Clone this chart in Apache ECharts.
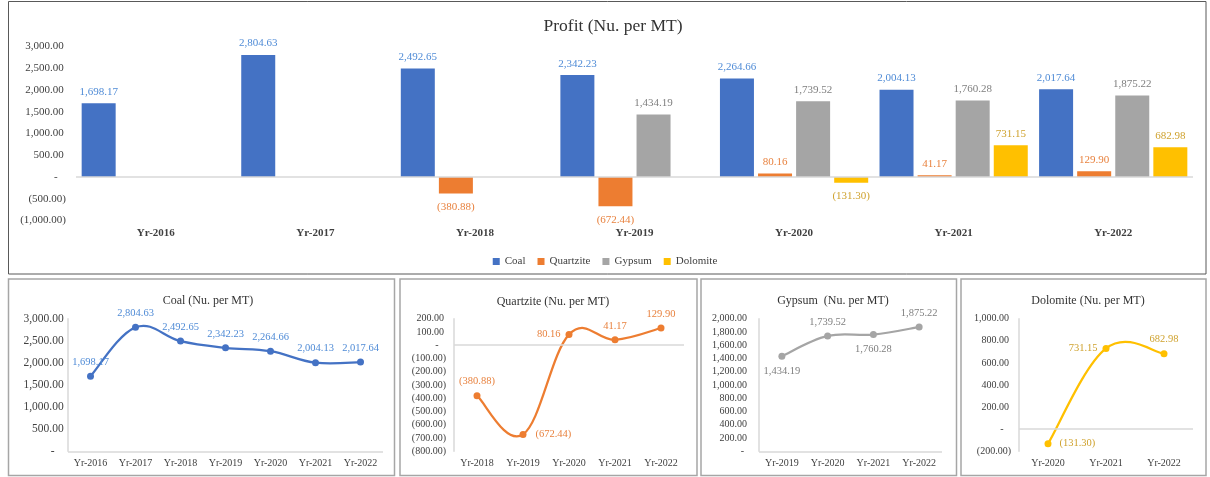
<!DOCTYPE html>
<html>
<head>
<meta charset="utf-8">
<script src="https://cdn.jsdelivr.net/npm/echarts@6/dist/echarts.min.js"></script>
<style>
html,body{margin:0;padding:0;background:#fff;}
#c{width:1210px;height:477px;}
</style>
</head>
<body>
<div id="c"></div>
<script>
// ---- data ----
const years = ['Yr-2016','Yr-2017','Yr-2018','Yr-2019','Yr-2020','Yr-2021','Yr-2022'];
const coal = [1698.17, 2804.63, 2492.65, 2342.23, 2264.66, 2004.13, 2017.64];
const quartzite = [null, null, -380.88, -672.44, 80.16, 41.17, 129.90];
const gypsum = [null, null, null, 1434.19, 1739.52, 1760.28, 1875.22];
const dolomite = [null, null, null, null, -131.30, 731.15, 682.98];
const seriesNames = ['Coal','Quartzite','Gypsum','Dolomite'];
// axis ranges [min, max, interval]
const mainAxis = [-1000, 3000, 500];
const coalAxis = [0, 3000, 500];
const quartzAxis = [-800, 200, 100];
const gypsumAxis = [0, 2000, 200];
const dolomiteAxis = [-200, 1000, 200];

// ---- helpers ----
const FONT = '"Liberation Serif", "Times New Roman", serif';
function fmtNum(v){
  const a = Math.abs(v);
  let s = a.toFixed(2);
  let [i, d] = s.split('.');
  i = i.replace(/\B(?=(\d{3})+(?!\d))/g, ',');
  return i + '.' + d;
}
function acct(v, pad){
  if (Math.abs(v) < 1e-9) return '-' + '\u00a0'.repeat(pad);
  return v < 0 ? '(' + fmtNum(v) + ')' : fmtNum(v) + '\u2009';
}
function lbl(v){ return v < 0 ? '(' + fmtNum(v) + ')' : fmtNum(v); }
function firstIdx(arr){ return arr.findIndex(v => v !== null); }
function sub(arr){ return arr.slice(firstIdx(arr)); }
function subYears(arr){ return years.slice(firstIdx(arr)); }

const colors = ['#4472C4','#ED7D31','#A5A5A5','#FFC000'];
const labelColors = ['#4F8BD6','#E8823F','#7F7F7F','#CFA22E'];
const allSeries = [coal, quartzite, gypsum, dolomite];

const zeroLine = {
  silent: true, symbol: 'none', animation: false,
  label: {show: false},
  lineStyle: {color: '#D9D9D9', width: 1.5, type: 'solid'},
  emphasis: {disabled: true},
  data: [{yAxis: 0}]
};

// ---- main bar chart ----
const mainSeries = allSeries.map((arr, k) => ({
  name: seriesNames[k], type: 'bar', xAxisIndex: 0, yAxisIndex: 0,
  barWidth: 34, barGap: '12%',
  itemStyle: {color: colors[k]},
  data: arr.map(v => v === null ? null : {
    value: v,
    label: {position: v < 0 ? 'bottom' : 'top', distance: v < 0 ? 8 : 6}
  }),
  label: {
    show: true, fontFamily: FONT, fontSize: 11, color: labelColors[k],
    formatter: p => lbl(p.value)
  },
  markLine: k === 0 ? zeroLine : undefined,
  animation: false
}));

// ---- small line panels ----
const panels = [
  {arr: coal, axis: coalAxis, pad: 4, k: 0, left: 68, width: 315, margin: 2, yFont: 11.5,
   pos: ['top','top','top','top','top','top','top'], dist: [5,5,5,5,5,5,5]},
  {arr: quartzite, axis: quartzAxis, pad: 3, k: 1, left: 454, width: 230, margin: 8, yFont: 10,
   pos: ['top','right','left','top','top'], dist: [5,9,5,5,5]},
  {arr: gypsum, axis: gypsumAxis, pad: 2, k: 2, left: 759, width: 183, margin: 10, yFont: 10,
   pos: ['bottom','top','bottom','top'], dist: [6,5,6,5]},
  {arr: dolomite, axis: dolomiteAxis, pad: 3, k: 3, left: 1019, width: 174, margin: 8, yFont: 10,
   pos: ['right','left','top'], dist: [8,5,5]}
];

const TENSION = 0.19; // Excel-like cardinal spline smoothing

const grids = [{left: 76, right: 17, top: 46.5, height: 174}];
const xAxes = [{
  type: 'category', gridIndex: 0, data: years,
  axisLine: {show: false, onZero: false}, axisTick: {show: false},
  axisLabel: {fontFamily: FONT, fontSize: 11, fontWeight: 'bold', color: '#404040', margin: 7}
}];
const yAxes = [{
  type: 'value', gridIndex: 0, min: mainAxis[0], max: mainAxis[1], interval: mainAxis[2],
  splitLine: {show: false}, axisLine: {show: false}, axisTick: {show: false},
  axisLabel: {fontFamily: FONT, fontSize: 11, color: '#404040', margin: 10,
    formatter: v => acct(v, 3)}
}];
const lineSeries = [];
panels.forEach((p, i) => {
  const gi = i + 1;
  const vals = sub(p.arr);
  grids.push({left: p.left, width: p.width, top: 318.7, height: 132.6});
  xAxes.push({
    type: 'category', gridIndex: gi, data: subYears(p.arr), boundaryGap: true,
    axisLine: {show: false, onZero: false}, axisTick: {show: false},
    axisLabel: {fontFamily: FONT, fontSize: 10, color: '#404040', margin: 7}
  });
  yAxes.push({
    type: 'value', gridIndex: gi, min: p.axis[0], max: p.axis[1], interval: p.axis[2],
    splitLine: {show: false},
    axisLine: {show: true, lineStyle: {color: '#D9D9D9', width: 1.5}},
    axisTick: {show: false},
    axisLabel: {fontFamily: FONT, fontSize: p.yFont, color: '#404040', margin: p.margin,
      formatter: v => acct(v, p.pad)}
  });
  // smooth curve drawn through the library's coordinate system
  lineSeries.push({
    type: 'custom', xAxisIndex: gi, yAxisIndex: gi, z: 1, silent: true,
    clip: false, animation: false,
    data: vals.map((v, j) => [j, v]),
    renderItem: (params, api) => {
      const j = params.dataIndex;
      if (j >= vals.length - 1) return {type: 'group', children: []};
      const P = idx => api.coord([Math.max(0, Math.min(vals.length - 1, idx)),
                                  vals[Math.max(0, Math.min(vals.length - 1, idx))]]);
      const p0 = P(j - 1), p1 = P(j), p2 = P(j + 1), p3 = P(j + 2);
      return {
        type: 'bezierCurve',
        shape: {
          x1: p1[0], y1: p1[1], x2: p2[0], y2: p2[1],
          cpx1: p1[0] + (p2[0] - p0[0]) * TENSION, cpy1: p1[1] + (p2[1] - p0[1]) * TENSION,
          cpx2: p2[0] - (p3[0] - p1[0]) * TENSION, cpy2: p2[1] - (p3[1] - p1[1]) * TENSION
        },
        style: {stroke: colors[p.k], lineWidth: 2.25, fill: null, lineCap: 'round'}
      };
    }
  });
  lineSeries.push({
    name: seriesNames[p.k] + ' line', type: 'line', xAxisIndex: gi, yAxisIndex: gi, z: 3,
    symbol: 'circle', symbolSize: 7,
    lineStyle: {opacity: 0, width: 0},
    itemStyle: {color: colors[p.k]},
    data: vals.map((v, j) => ({
      value: v, label: {position: p.pos[j], distance: p.dist[j]}
    })),
    label: {show: true, fontFamily: FONT, fontSize: 10.5, color: labelColors[p.k],
      formatter: q => lbl(q.value)},
    markLine: zeroLine,
    animation: false
  });
});

const titles = [
  {text: 'Profit (Nu. per MT)', left: 608, top: 12, textAlign: 'center',
   textStyle: {fontFamily: FONT, fontSize: 17.5, fontWeight: 'normal', color: '#333'}},
  {text: 'Coal (Nu. per MT)', left: 203, top: 290, textAlign: 'center',
   textStyle: {fontFamily: FONT, fontSize: 12, fontWeight: 'normal', color: '#333'}},
  {text: 'Quartzite (Nu. per MT)', left: 548, top: 291, textAlign: 'center',
   textStyle: {fontFamily: FONT, fontSize: 12, fontWeight: 'normal', color: '#333'}},
  {text: 'Gypsum  (Nu. per MT)', left: 828, top: 290, textAlign: 'center',
   textStyle: {fontFamily: FONT, fontSize: 12, fontWeight: 'normal', color: '#333'}},
  {text: 'Dolomite (Nu. per MT)', left: 1083, top: 290, textAlign: 'center',
   textStyle: {fontFamily: FONT, fontSize: 12, fontWeight: 'normal', color: '#333'}}
];

const borders = [
  {x: 8.5, y: 1.5, w: 1197.5, h: 272.5, c: '#595959', lw: 1},
  {x: 8.5, y: 279, w: 386, h: 196.5, c: '#A6A6A6', lw: 1.5},
  {x: 400, y: 279, w: 297, h: 196.5, c: '#A6A6A6', lw: 1.5},
  {x: 701, y: 279, w: 255.5, h: 196.5, c: '#A6A6A6', lw: 1.5},
  {x: 961, y: 279, w: 245, h: 196.5, c: '#A6A6A6', lw: 1.5}
];

const chart = echarts.init(document.getElementById('c'), null, {renderer: 'canvas'});
chart.setOption({
  backgroundColor: '#fff',
  animation: false,
  title: titles,
  legend: {
    data: seriesNames, left: 'center', top: 251, icon: 'rect',
    itemWidth: 7, itemHeight: 7, itemGap: 12,
    textStyle: {fontFamily: FONT, fontSize: 11, color: '#404040'}
  },
  grid: grids,
  xAxis: xAxes,
  yAxis: yAxes,
  series: mainSeries.concat(lineSeries),
  graphic: borders.map(b => ({
    type: 'rect', silent: true, z: 100,
    shape: {x: b.x, y: b.y, width: b.w, height: b.h},
    style: {fill: 'none', stroke: b.c, lineWidth: b.lw}
  }))
});
</script>
</body>
</html>
